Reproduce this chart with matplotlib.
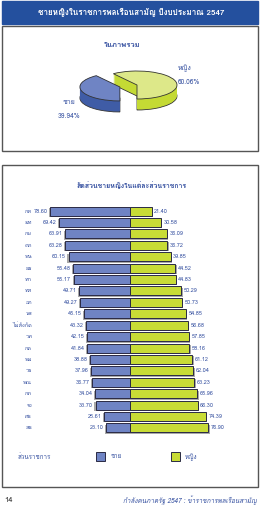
import matplotlib
matplotlib.use("Agg")
import matplotlib.pyplot as plt
from matplotlib import font_manager
from matplotlib.ft2font import FT2Font
from matplotlib.patches import Rectangle
import numpy as np

# ข้อมูล
title = "ชายหญิงในราชการพลเรือนสามัญ ปีงบประมาณ 2547"
pie_title = "ในภาพรวม"
pie_labels = ["หญิง", "ชาย"]
pie_values = [60.06, 39.94]

bar_title = "สัดส่วนชายหญิงในแต่ละส่วนราชการ"
agencies = ["กห", "มท", "กษ", "คค", "พน", "ยธ", "ทก", "ทส", "อก", "นร",
            "ไม่สังกัด", "วท", "กต", "พม", "วธ", "พณ", "กค", "รง", "ศธ", "สธ"]
male = [78.60, 69.42, 63.91, 63.28, 60.15, 55.48, 55.17, 49.71, 49.27, 45.15,
        43.32, 42.15, 41.84, 38.88, 37.96, 36.77, 34.04, 33.70, 25.61, 23.10]
female = [21.40, 30.58, 36.09, 36.72, 39.85, 44.52, 44.83, 50.29, 50.73, 54.85,
          56.68, 57.85, 58.16, 61.12, 62.04, 63.23, 65.96, 66.30, 74.39, 76.90]
legend_title = "ส่วนราชการ"
footer_page = "14"
footer_text = "กำลังคนภาครัฐ 2547 : ข้าราชการพลเรือนสามัญ"


def find_thai_font():
    # หาฟอนต์ที่มีตัวอักษรไทย
    for f in font_manager.fontManager.ttflist:
        try:
            cmap = FT2Font(f.fname).get_charmap()
        except Exception:
            continue
        if 0x0E01 in cmap:
            return f.name
    return None


thai = find_thai_font()
fams = [thai, "DejaVu Sans"] if thai else ["DejaVu Sans"]
plt.rcParams["font.family"] = fams

blue_txt = "#3550a0"
male_top, male_side = "#6f84c4", "#3f5ca6"
fem_top, fem_side = "#dde889", "#c4da34"

fig = plt.figure(figsize=(2.6, 5.2), dpi=100)

# พื้นหลังและกรอบ (หน่วยพิกเซล)
bg = fig.add_axes([0, 0, 1, 1])
bg.set_xlim(0, 260)
bg.set_ylim(520, 0)
bg.axis("off")
bg.add_patch(Rectangle((2, 1), 256, 23, color="#24509e"))
bg.text(131, 12.5, title, color="white", fontsize=5.8, fontweight="bold",
        ha="center", va="center")
bg.add_patch(Rectangle((2, 26), 256, 125, facecolor="white", edgecolor="#555555", lw=1))
bg.add_patch(Rectangle((2, 165), 256, 322, facecolor="white", edgecolor="#555555", lw=1))
bg.text(122, 45, pie_title, color=blue_txt, fontsize=5.5, fontweight="bold",
        ha="center", va="center")
bg.text(185, 68, pie_labels[0], color=blue_txt, fontsize=5, ha="center", va="center")
bg.text(189, 82, f"{pie_values[0]:.2f}%", color=blue_txt, fontsize=4.8, ha="center", va="center")
bg.text(69, 102, pie_labels[1], color=blue_txt, fontsize=5, ha="center", va="center")
bg.text(69, 116, f"{pie_values[1]:.2f}%", color=blue_txt, fontsize=4.8, ha="center", va="center")
bg.text(132, 185, bar_title, color=blue_txt, fontsize=5, fontweight="bold",
        ha="center", va="center")

# พายสามมิติแบบง่าย
ax_pie = fig.add_axes([60 / 260, 1 - 125 / 520, 140 / 260, 70 / 520])
depth = 11 / 14
explode = [0, 0.45]
for k, d in enumerate(np.linspace(depth, 0.02, 12)):
    ax_pie.pie(pie_values, colors=[fem_side, male_side], startangle=-90,
               explode=explode, center=(0, -d),
               wedgeprops=dict(linewidth=0.6 if k == 0 else 0,
                               edgecolor="#333333"))
ax_pie.pie(pie_values, colors=[fem_top, male_top], startangle=-90,
           explode=explode, wedgeprops=dict(linewidth=0.6, edgecolor="#333333"))
ax_pie.set_aspect("auto")
ax_pie.set_xlim(-77 / 40, 63 / 40)
ax_pie.set_ylim(-40 / 14, 30 / 14)
ax_pie.axis("off")

# แผนภูมิแท่ง
ax = fig.add_axes([20 / 260, 1 - 440 / 520, 220 / 260, 240 / 520])
y = np.arange(len(agencies))
h = 9 / 11.42
m = np.array(male)
f = np.array(female)
ax.barh(y + 0.12, -(m + 1.2), height=h, color="#a8a8a8", lw=0)
ax.barh(y + 0.12, f + 1.2, height=h, color="#a8a8a8", lw=0)
ax.barh(y, -m, height=h, color=male_top, edgecolor="#2a2a44", lw=0.7)
ax.barh(y, f, height=h, color="#c8dc36", edgecolor="#2a2a44", lw=0.7)
for i in range(len(agencies)):
    ax.text(-m[i] - 2.5, y[i], f"{m[i]:.2f}", color=blue_txt, fontsize=4,
            ha="right", va="center")
    ax.text(f[i] + 2.5, y[i], f"{f[i]:.2f}", color=blue_txt, fontsize=4,
            ha="left", va="center")
    ax.text(-96, y[i], agencies[i], color=blue_txt, fontsize=4,
            ha="right", va="center")
ax.set_xlim(-110 / 1.02, 110 / 1.02)
ax.set_ylim(19 + 12 / 11.42, -11 / 11.42)
ax.axis("off")

# คำอธิบาย
bg.text(18, 457, legend_title, color=blue_txt, fontsize=4.5, ha="left", va="center")
bg.add_patch(Rectangle((96, 452), 9, 9, facecolor=male_top, edgecolor="#2a2a44", lw=0.7))
bg.text(111, 457, "ชาย", color=blue_txt, fontsize=4.5, ha="left", va="center")
bg.add_patch(Rectangle((171, 452), 9, 9, facecolor="#c8dc36", edgecolor="#2a2a44", lw=0.7))
bg.text(185, 457, "หญิง", color=blue_txt, fontsize=4.5, ha="left", va="center")

# ท้ายหน้า
bg.text(4, 500, footer_page, color="#333333", fontsize=5.5, ha="left", va="center")
bg.text(257, 500, footer_text, color=blue_txt, fontsize=4.6, style="italic",
        ha="right", va="center")

fig.savefig("out.png", dpi=100)
